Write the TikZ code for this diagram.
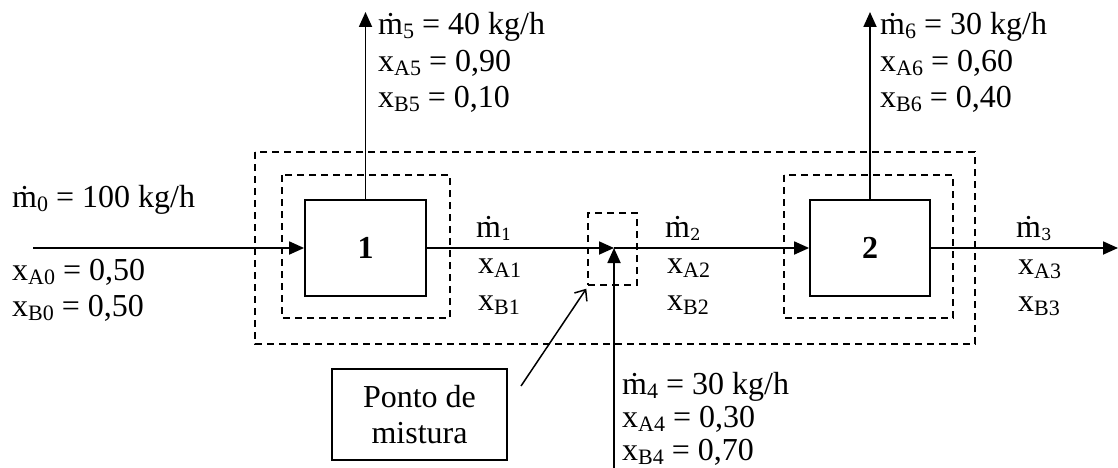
\documentclass[tikz,border=0pt]{standalone}
\usepackage{fontspec}
\setmainfont{Liberation Serif}
\newfontfamily\dvs{DejaVu Serif}
\usetikzlibrary{arrows.meta,calc}
\newcommand{\md}{\.m}
\newcommand{\sbs}[1]{\raisebox{-4pt}{\fontsize{22}{22}\selectfont #1}}
\newcommand{\sbm}[1]{\raisebox{-3pt}{\fontsize{16.5}{16.5}\selectfont\dvs #1}}
\tikzset{
  lbl/.style={anchor=base west, inner sep=0pt, font=\fontsize{32}{36}\selectfont},
  solidln/.style={line width=1.8pt},
  dashln/.style={line width=1.4pt, dash pattern=on 7pt off 5pt},
  flow/.style={solidln, -{Triangle[length=15pt,width=13pt]}},
  unitbox/.style={draw, line width=1.8pt, minimum width=121pt, minimum height=96pt, inner sep=0pt, font=\fontsize{32}{36}\selectfont\bfseries},
}
\begin{document}
\begin{tikzpicture}[x=1pt,y=-1pt]
\useasboundingbox (0,0) rectangle (1118,468);
% dashed control volumes
\draw[dashln] (255,152) rectangle (975,344);
\draw[dashln] (282,175) rectangle (450,318);
\draw[dashln] (784,175) rectangle (953,318);
\node[draw, dashln, minimum width=49pt, minimum height=72pt, inner sep=0pt] (mixbox) at (612.5,249) {};
% units
\node[unitbox] (u1) at (365.5,248) {1};
\node[unitbox, minimum width=120pt] (u2) at (870,248) {2};
% coordinates
\coordinate (in) at (33,248);
\coordinate (mix) at (614,248);
\coordinate (src4) at (614,468);
\coordinate (out) at (1118,248);
\coordinate (top5) at (365.5,12);
\coordinate (top6) at (870,12);
% streams
\draw[flow] (in) -- (u1.west);
\draw[flow] (u1.east) -- (mix);
\draw[flow] (mix) -- (u2.west);
\draw[flow] (src4) -- (mix);
\draw[flow] (u2.east) -- (out);
\draw[flow] (u1.north) -- (top5);
\draw[flow] (u2.north) -- (top6);
% ponto de mistura
\node[draw, line width=1.5pt, minimum width=175pt, minimum height=91pt, inner sep=0pt, align=center, font=\fontsize{32}{36}\selectfont] (ponto) at (419.5,414.5) {Ponto de\\mistura};
\coordinate (pstart) at (521,386);
\draw[line width=1.5pt, -{Straight Barb[length=9pt,width=15pt]}] (pstart) -- ($(mixbox.south west)+(-1,3)$);
% labels stream 0
\node[lbl] (l0a) at (12,207) {\md\sbs{0} = 100 kg/h};
\node[lbl] (l0b) at (12,280) {x\sbs{A0} = 0,50};
\node[lbl] (l0c) at (12,316) {x\sbs{B0} = 0,50};
% stream 5
\node[lbl] (l5a) at (378,35) {\md\sbs{5} = 40 kg/h};
\node[lbl] (l5b) at (378,72) {x\sbs{A5} = 0,90};
\node[lbl] (l5c) at (378,108) {x\sbs{B5} = 0,10};
% stream 6
\node[lbl] (l6a) at (880,35) {\md\sbs{6} = 30 kg/h};
\node[lbl] (l6b) at (880,72) {x\sbs{A6} = 0,60};
\node[lbl] (l6c) at (880,108) {x\sbs{B6} = 0,40};
% stream 1
\node[lbl] (l1a) at (476,237) {\md\sbm{1}};
\node[lbl] (l1b) at (478,273) {x\sbs{A1}};
\node[lbl] (l1c) at (478,310) {x\sbs{B1}};
% stream 2
\node[lbl] (l2a) at (665,237) {\md\sbm{2}};
\node[lbl] (l2b) at (667,273) {x\sbs{A2}};
\node[lbl] (l2c) at (667,310) {x\sbs{B2}};
% stream 3
\node[lbl] (l3a) at (1016,237) {\md\sbm{3}};
\node[lbl] (l3b) at (1018,274) {x\sbs{A3}};
\node[lbl] (l3c) at (1018,311) {x\sbs{B3}};
% stream 4
\node[lbl] (l4a) at (622,394) {\md\sbs{4} = 30 kg/h};
\node[lbl] (l4b) at (622,427) {x\sbs{A4} = 0,30};
\node[lbl] (l4c) at (622,460) {x\sbs{B4} = 0,70};
\end{tikzpicture}
\end{document}
